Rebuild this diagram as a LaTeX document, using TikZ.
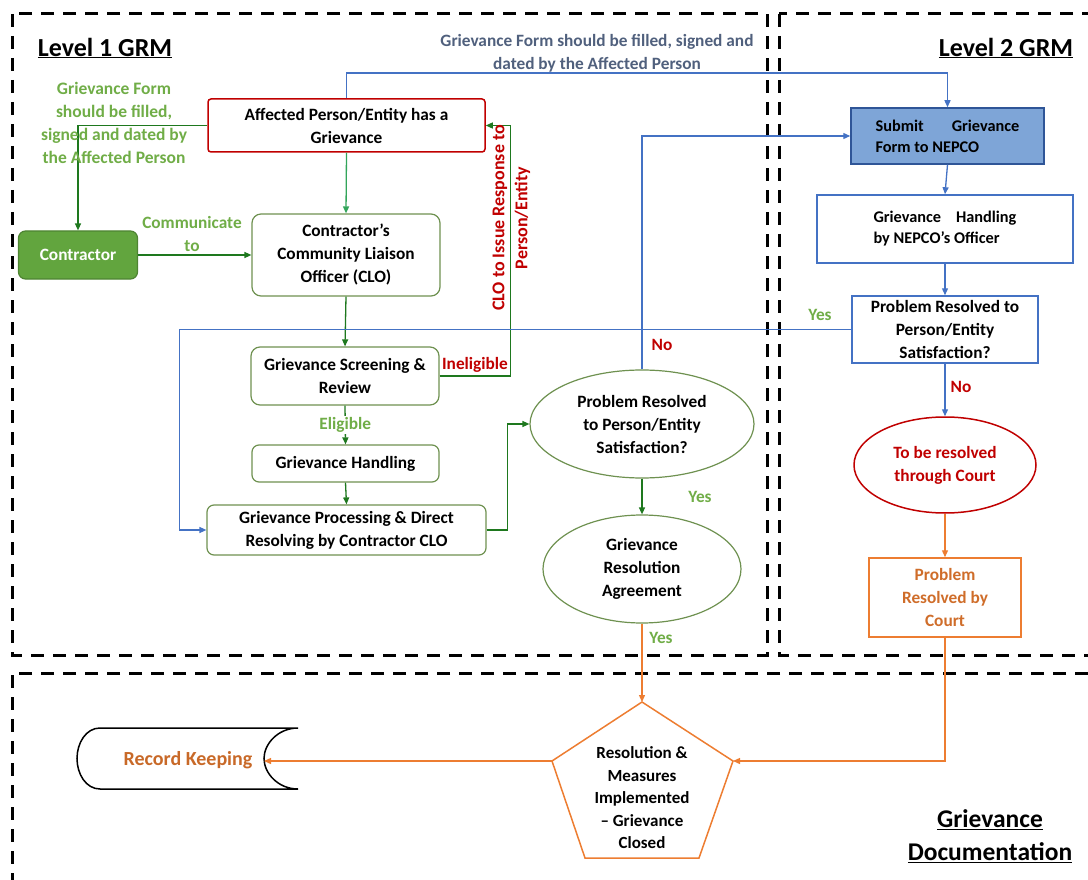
\documentclass[tikz,border=0pt]{standalone}
\usepackage{fontspec}
\setmainfont{Carlito}
\usetikzlibrary{positioning, calc, shapes.geometric, arrows.meta}
\definecolor{dkgreen}{RGB}{30,120,30}
\definecolor{mdgreen}{RGB}{50,165,90}
\definecolor{lgreen}{RGB}{112,173,71}
\definecolor{boxgreen}{RGB}{110,145,80}
\definecolor{fillgreen}{RGB}{98,165,62}
\definecolor{grmred}{RGB}{192,0,0}
\definecolor{grmblue}{RGB}{68,114,196}
\definecolor{blfill}{RGB}{126,165,215}
\definecolor{blborder}{RGB}{47,85,151}
\definecolor{slate}{RGB}{80,96,125}
\definecolor{grmorange}{RGB}{237,125,49}
\definecolor{dkorange}{RGB}{200,105,40}
\tikzset{
  txt/.style={font=\fontsize{17.3}{23}\selectfont\bfseries, align=center, inner sep=0pt},
  gbox/.style={txt, draw=boxgreen, line width=1.2pt, rounded corners=9pt},
  bbox/.style={txt, draw=grmblue, line width=1.5pt},
  gell/.style={txt, ellipse, draw=boxgreen, line width=1.2pt},
  tip/.style={-{Triangle[length=7pt,width=6pt]}},
  garrow/.style={tip, draw=dkgreen, line width=1.3pt},
  barrow/.style={tip, draw=grmblue, line width=1.3pt},
  oarrow/.style={tip, draw=grmorange, line width=1.3pt},
  region/.style={line width=3pt, dash pattern=on 13pt off 9pt},
  grmtitle/.style={font=\fontsize{26}{31}\selectfont\bfseries, inner sep=0pt},
  lab/.style={txt, text=lgreen},
  redlab/.style={txt, text=grmred}
}
\begin{document}
\begin{tikzpicture}[x=1pt, y=-1pt]
    \useasboundingbox (0,0) rectangle (1088,880);
    \clip (0,0) rectangle (1088,880);
    % regions
    \draw[region] (12,14) rectangle (767,655);
    \draw[region] (779,14) rectangle (1110,655);
    \draw[region] (1110,673) -- (12,673) -- (12,895);
    \node[grmtitle] (lvl1) at (105,48) {\underline{Level 1 GRM}};
    \node[grmtitle] (lvl2) at (1006,48) {\underline{Level 2 GRM}};
    \node[grmtitle, align=center, font=\fontsize{25.5}{33}\selectfont\bfseries] (doc) at (990,836) {\underline{Grievance}\\\underline{Documentation}};
    %
    % level 1
    \node[txt, draw=grmred, line width=1.5pt, rounded corners=3pt, minimum width=277pt, minimum height=53pt] (aff) at (346.5,125.5) {Affected Person/Entity has a\\Grievance};
    \node[txt, fill=fillgreen, draw=fillgreen!80!black, text=white, line width=1.2pt, rounded corners=7pt, minimum width=119pt, minimum height=48pt] (con) at (78,255) {Contractor};
    \node[gbox, minimum width=188pt, minimum height=82pt] (clo) at (346,255) {Contractor's\\Community Liaison\\Officer (CLO)};
    \node[gbox, minimum width=188pt, minimum height=58pt] (scr) at (345,376) {Grievance Screening \&\\Review};
    \node[gbox, minimum width=187pt, minimum height=37pt, rounded corners=7pt] (hnd) at (345.5,463.5) {Grievance Handling};
    \node[gbox, minimum width=279pt, minimum height=50pt, rounded corners=7pt] (prc) at (346.5,530) {Grievance Processing \& Direct\\Resolving by Contractor CLO};
    \node[gell, minimum width=224pt, minimum height=108pt] (pr1) at (642,424) {Problem Resolved\\to Person/Entity\\Satisfaction?};
    \node[gell, minimum width=198pt, minimum height=108pt] (gra) at (642,569) {Grievance\\Resolution\\Agreement};
    %
    % level 2
    \node[txt, font=\fontsize{16.3}{21}\selectfont\bfseries, fill=blfill, draw=blborder, line width=1.5pt, minimum width=193pt, minimum height=56pt, align=left] (sub) at (947.5,136) {Submit\hspace{28pt}Grievance\\Form to NEPCO};
    \node[bbox, font=\fontsize{16.3}{21}\selectfont\bfseries, minimum width=256pt, minimum height=68pt, align=left] (nhd) at (945,229) {Grievance\hspace{15pt}Handling\\by NEPCO's Officer};
    \node[bbox, minimum width=186pt, minimum height=67pt] (pr2) at (945,329.5) {Problem Resolved to\\Person/Entity\\Satisfaction?};
    \node[txt, ellipse, draw=grmred, text=grmred, line width=1.5pt, minimum width=182pt, minimum height=96pt] (crt) at (945,465) {To be resolved\\through Court};
    \node[txt, draw=grmorange, text=dkorange!80!grmorange, line width=1.5pt, minimum width=152pt, minimum height=79pt] (pcr) at (945,597.5) {Problem\\Resolved by\\Court};
    %
    % documentation
    \coordinate (pT) at (642,702);
    \coordinate (pR) at (733,761);
    \coordinate (pL) at (552,761);
    \draw[grmorange, line width=1.5pt] (pT) -- (pR) -- (699,858) -- (585,858) -- (pL) -- cycle;
    \node[txt, font=\fontsize{17}{22.5}\selectfont\bfseries] (pent) at (642,798) {Resolution \&\\Measures\\Implemented\\-- Grievance\\Closed};
    \draw[line width=1.5pt] (100,728) -- (298,728) .. controls (278,728) and (264,744) .. (264,758.5) .. controls (264,773) and (278,789) .. (298,789) -- (100,789) .. controls (86,789) and (77,774) .. (77,758.5) .. controls (77,743) and (86,728) .. (100,728) -- cycle;
    \node[txt, text=dkorange, font=\fontsize{20}{24}\selectfont\bfseries] (rec) at (188,760) {Record Keeping};
    \coordinate (recR) at (264,761);
    %
    % connectors level 1
    \draw[garrow] (aff.west) -| (con.north);
    \draw[garrow] (con.east) -- (clo.west);
    \draw[tip, draw=mdgreen, line width=1.3pt] (aff.south) -- (clo.north);
    \draw[garrow] (clo.south) -- (scr.north);
    \draw[garrow] (scr.south) -- node[lab, fill=white, inner sep=1pt] (elig) {Eligible} (hnd.north);
    \draw[garrow] (hnd.south) -- (prc.north);
    \draw[garrow] (scr.east) -- ++(71,0) |- (aff.east);
    \draw[garrow] (prc.east) -- ++(21,0) |- (pr1.west);
    \draw[garrow] (pr1.south) -- (gra.north);
    %
    % connectors level 2
    \draw[barrow] (aff.north) |- (sub.north |- 0,73) -- (sub.north);
    \draw[barrow] (pr1.north) |- (sub.west);
    \draw[barrow] (sub.south) -- (nhd.north);
    \draw[barrow] (nhd.south) -- (pr2.north);
    \draw[barrow] (pr2.west) -- ++(-672,0) |- (prc.west);
    \draw[barrow] (pr2.south) -- (crt.north);
    \draw[oarrow] (crt.south) -- (pcr.north);
    \draw[oarrow] (gra.south) -- (pT);
    \draw[oarrow] (pcr.south) |- (pR);
    \draw[oarrow] (pL) -- (recR);
    %
    % labels
    \node[lab, font=\fontsize{17.5}{23}\selectfont\bfseries] (formlab) at (114,123) {Grievance Form\\should be filled,\\signed and dated by\\the Affected Person};
    \node[lab] (commlab) at (192,234) {Communicate\\to};
    \node[redlab, rotate=90, font=\fontsize{18}{23}\selectfont\bfseries] (clolab) at (511.5,218) {CLO to Issue Response to\\Person/Entity};
    \node[redlab] (inelig) at (475,365) {Ineligible};
    \node[txt, text=slate] (blulab) at (597,53.5) {Grievance Form should be filled, signed and\\dated by the Affected Person};
    \node[redlab] (no1) at (662,345) {No};
    \node[lab] (yes1) at (700,497) {Yes};
    \node[lab] (yes2) at (661,638) {Yes};
    \node[lab] (yes3) at (820,315) {Yes};
    \node[redlab] (no2) at (961,387) {No};
\end{tikzpicture}
\end{document}
